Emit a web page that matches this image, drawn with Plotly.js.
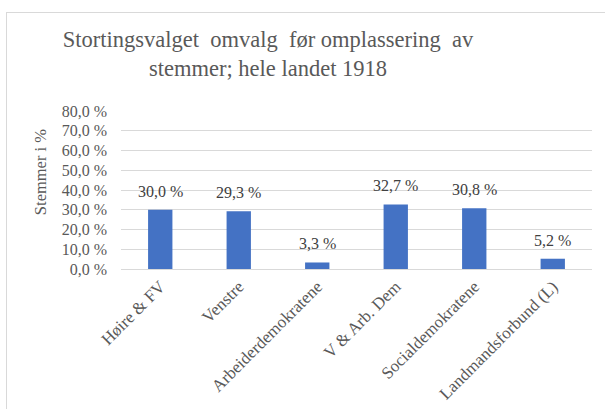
<!DOCTYPE html>
<html>
<head>
<meta charset="utf-8">
<script src="https://cdn.plot.ly/plotly-3.0.1.min.js"></script>
<style>
html,body{margin:0;padding:0;background:#fff;}
#wrap{position:relative;width:605px;height:409px;overflow:hidden;}
#chart{position:absolute;left:0;top:0;width:605px;height:409px;}
#frame{position:absolute;left:6px;top:12px;width:700px;height:500px;border-left:1px solid #D9D9D9;border-top:1px solid #D9D9D9;pointer-events:none;}
</style>
</head>
<body>
<div id="wrap"><div id="chart"></div><div id="frame"></div></div>
<script>
const categories = ["Høire & FV", "Venstre", "Arbeiderdemokratene", "V & Arb. Dem", "Socialdemokratene", "Landmandsforbund (L)"];
const values = [30.0, 29.3, 3.3, 32.7, 30.8, 5.2];
const tickValues = [0, 10, 20, 30, 40, 50, 60, 70, 80];
const tickLabels = ["0,0 %", "10,0 %", "20,0 %", "30,0 %", "40,0 %", "50,0 %", "60,0 %", "70,0 %", "80,0 %"];
const yTitle = "Stemmer i %";

const FONT = "'Liberation Serif', 'Times New Roman', serif";

const trace = {
  type: "bar",
  x: categories,
  y: values,
  marker: {color: "#4472C4"},
  hoverinfo: "none"
};

const annotations = categories.map((c, i) => ({
  x: c, y: values[i], xref: "x", yref: "y",
  text: values[i].toFixed(1).replace(".", ",") + " %",
  showarrow: false, yanchor: "bottom", yshift: 8,
  font: {family: FONT, size: 16, color: "#404040"}
}));
annotations.push({
  text: yTitle, textangle: -90,
  xref: "paper", yref: "paper", x: -0.172, y: 0.613,
  xanchor: "center", yanchor: "middle", showarrow: false,
  font: {family: FONT, size: 16.5, color: "#595959"}
});

const layout = {
  width: 605, height: 409,
  margin: {l: 121, r: 13, t: 111, b: 140},
  paper_bgcolor: "#fff", plot_bgcolor: "#fff",
  separators: ", ",
  bargap: 0.69,
  showlegend: false,
  font: {family: FONT},
  title: {
    text: "Stortingsvalget  omvalg  før omplassering  av<br>stemmer; hele landet 1918",
    x: 268/605, xanchor: "center", xref: "container",
    y: 1 - 47/409, yanchor: "top", yref: "container",
    font: {family: FONT, size: 22.5, color: "#595959"}
  },
  xaxis: {
    type: "category",
    tickangle: -45,
    tickfont: {family: FONT, size: 17, color: "#595959"},
    showgrid: false,
    showline: true, linecolor: "#D9D9D9", linewidth: 1,
    ticks: "", zeroline: false
  },
  yaxis: {
    range: [0, 80],
    tickmode: "array",
    tickvals: tickValues,
    ticktext: tickLabels,
    ticklabelstandoff: 13,
    tickfont: {family: FONT, size: 16, color: "#595959"},
    showgrid: true, gridcolor: "#D9D9D9", gridwidth: 1,
    zeroline: false, showline: false, ticks: ""
  },
  annotations: annotations
};

Plotly.newPlot("chart", [trace], layout, {staticPlot: true, displayModeBar: false});
</script>
</body>
</html>
